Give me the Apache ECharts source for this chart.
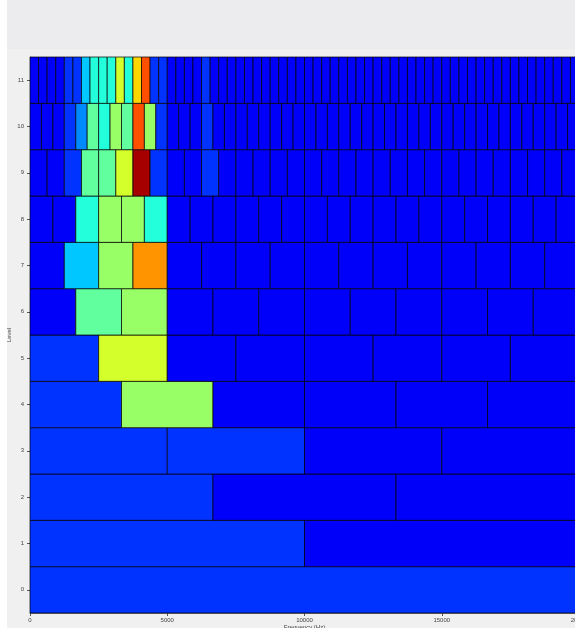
<!DOCTYPE html>
<html>
<head>
<meta charset="utf-8">
<title>Level / Frequency tiling</title>
<script src="https://cdn.jsdelivr.net/npm/echarts@6/dist/echarts.min.js"></script>
<style>
  html, body { margin: 0; padding: 0; background: #ffffff; }
  #chart { width: 575px; height: 628px; }
</style>
</head>
<body>
<div id="chart"></div>
<script>
// Frequency span of every level (Hz)
const freqMax = 20000;
const xTicks = [0, 5000, 10000, 15000, 20000];
const levelLabels = ['0', '1', '2', '3', '4', '5', '6', '7', '8', '9', '10', '11'];

// Normalised energy of each band, low frequency first (0..1 on the jet scale)
const level0 = [0.175];
const level1 = [0.175, 0.12];
const level2 = [0.175, 0.12, 0.12];
const level3 = [0.175, 0.175, 0.12, 0.12];
const level4 = [0.175, 0.525, 0.12, 0.12, 0.12, 0.12];
const level5 = [0.175, 0.583, 0.12, 0.12, 0.12, 0.12, 0.12, 0.12];
const level6 = [0.12, 0.47, 0.525, 0.12, 0.12, 0.12, 0.12, 0.12, 0.12, 0.12, 0.12, 0.12];
const level7 = [0.12, 0.32, 0.525, 0.73, 0.12, 0.12, 0.12, 0.12,
                0.12, 0.12, 0.12, 0.12, 0.12, 0.12, 0.12, 0.12];
const level8 = [0.12, 0.12, 0.41, 0.525, 0.525, 0.41, 0.12, 0.12,
                0.12, 0.12, 0.12, 0.12, 0.12, 0.12, 0.12, 0.12,
                0.12, 0.12, 0.12, 0.12, 0.12, 0.12, 0.12, 0.12];
const level9 = [0.12, 0.12, 0.175, 0.47, 0.47, 0.583, 0.9625, 0.175,
                0.12, 0.12, 0.175, 0.12, 0.12, 0.12, 0.12, 0.12,
                0.12, 0.12, 0.12, 0.12, 0.12, 0.12, 0.12, 0.12,
                0.12, 0.12, 0.12, 0.12, 0.12, 0.12, 0.12, 0.12];
const level10 = [0.12, 0.12, 0.12, 0.175, 0.26, 0.47, 0.41, 0.525,
                 0.47, 0.797, 0.525, 0.175, 0.12, 0.12, 0.12, 0.175,
                 0.12, 0.12, 0.12, 0.12, 0.12, 0.12, 0.12, 0.12,
                 0.12, 0.12, 0.12, 0.12, 0.12, 0.12, 0.12, 0.12,
                 0.12, 0.12, 0.12, 0.12, 0.12, 0.12, 0.12, 0.12,
                 0.12, 0.12, 0.12, 0.12, 0.12, 0.12, 0.12, 0.12];
const level11 = [0.12, 0.12, 0.12, 0.12, 0.175, 0.175, 0.32, 0.41,
                 0.41, 0.41, 0.583, 0.41, 0.665, 0.797, 0.175, 0.175,
                 0.12, 0.12, 0.12, 0.12, 0.175, 0.12, 0.12, 0.12,
                 0.12, 0.12, 0.12, 0.12, 0.12, 0.12, 0.12, 0.12,
                 0.12, 0.12, 0.12, 0.12, 0.12, 0.12, 0.12, 0.12,
                 0.12, 0.12, 0.12, 0.12, 0.12, 0.12, 0.12, 0.12,
                 0.12, 0.12, 0.12, 0.12, 0.12, 0.12, 0.12, 0.12,
                 0.12, 0.12, 0.12, 0.12, 0.12, 0.12, 0.12, 0.12];

const levels = [level0, level1, level2, level3, level4, level5,
                level6, level7, level8, level9, level10, level11];

// Jet colour map stops
const jet = ['#000080', '#0000ff', '#0080ff', '#00ffff', '#80ff80',
             '#ffff00', '#ff8000', '#ff0000', '#800000'];

// One item per band: [startHz, endHz, level, value]
const tiles = [];
levels.forEach(function (vals, lv) {
  const w = freqMax / vals.length;
  vals.forEach(function (v, i) {
    tiles.push([i * w, (i + 1) * w, lv, v]);
  });
});

const chart = echarts.init(document.getElementById('chart'), null, { renderer: 'canvas' });

chart.setOption({
  backgroundColor: '#f0f0f0',
  animation: false,
  textStyle: { fontFamily: 'Liberation Sans, Arial, sans-serif' },
  graphic: [
    { type: 'rect', z: -10, shape: { x: 0, y: 0, width: 575, height: 49 }, style: { fill: '#ececee' } },
    { type: 'rect', z: -9, shape: { x: 0, y: 0, width: 7, height: 628 }, style: { fill: '#ffffff' } }
  ],
  grid: { left: 30, right: -4, top: 57, bottom: 15, show: false,
          containLabel: false, outerBoundsMode: 'none' },
  visualMap: {
    show: false, type: 'continuous', dimension: 3, min: 0, max: 1,
    inRange: { color: jet }, seriesIndex: 0
  },
  xAxis: {
    type: 'value', min: 0, max: freqMax, interval: 5000,
    name: 'Frequency (Hz)', nameLocation: 'middle', nameGap: 11,
    nameMoveOverlap: false,
    nameTextStyle: { fontSize: 6, color: '#444', verticalAlign: 'top' },
    axisLine: { show: true, lineStyle: { color: '#777', width: 1 } },
    axisTick: { show: true, length: 3, lineStyle: { color: '#555' } },
    axisLabel: { fontSize: 6, color: '#444', margin: 4,
      formatter: function (v) { return xTicks.indexOf(v) >= 0 ? String(v) : ''; } },
    splitLine: { show: false }
  },
  yAxis: {
    type: 'category', data: levelLabels, boundaryGap: true,
    name: 'Level', nameLocation: 'middle', nameGap: 18, nameRotate: 90,
    nameMoveOverlap: false,
    nameTextStyle: { fontSize: 6, color: '#444' },
    axisLine: { show: true, lineStyle: { color: '#777', width: 1 } },
    axisTick: { show: true, alignWithLabel: true, length: 3, lineStyle: { color: '#555' } },
    axisLabel: { fontSize: 6, color: '#444', margin: 6 },
    splitLine: { show: false }
  },
  series: [{
    type: 'custom',
    data: tiles,
    encode: { x: [0, 1], y: 2 },
    renderItem: function (params, api) {
      const a = api.coord([api.value(0), api.value(2)]);
      const b = api.coord([api.value(1), api.value(2)]);
      const h = api.size([0, 1])[1];
      return {
        type: 'rect',
        shape: { x: a[0], y: a[1] - h / 2, width: b[0] - a[0], height: h },
        style: { fill: api.visual('color'), stroke: 'rgba(0,0,0,0.7)', lineWidth: 1 }
      };
    }
  }]
});
</script>
</body>
</html>
